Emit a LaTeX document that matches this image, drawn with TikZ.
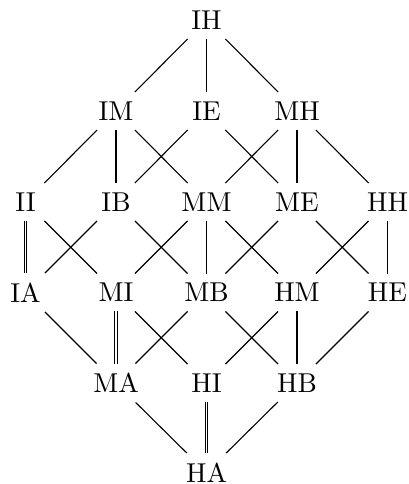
\documentclass[tikz,border=0pt]{standalone}
\begin{document}
\begin{tikzpicture}[x=0.3664pt,y=-0.3664pt,
  lbl/.style={inner sep=0.333em},
  eq/.style={double}]
\useasboundingbox (0,0) rectangle (408,484);
\node[lbl] (IH) at (206.5,20) {IH};
\node[lbl] (IM) at (116,111) {IM};
\node[lbl] (IE) at (206.5,111) {IE};
\node[lbl] (MH) at (297,111) {MH};
\node[lbl] (II) at (25.5,202) {II};
\node[lbl] (IB) at (116,202) {IB};
\node[lbl] (MM) at (206.5,202) {MM};
\node[lbl] (ME) at (297,202) {ME};
\node[lbl] (HH) at (387.5,202) {HH};
\node[lbl] (IA) at (25.5,292.5) {IA};
\node[lbl] (MI) at (116,292.5) {MI};
\node[lbl] (MB) at (206.5,292.5) {MB};
\node[lbl] (HM) at (297,292.5) {HM};
\node[lbl] (HE) at (387.5,292.5) {HE};
\node[lbl] (MA) at (116,383) {MA};
\node[lbl] (HI) at (206.5,383) {HI};
\node[lbl] (HB) at (297,383) {HB};
\node[lbl] (HA) at (206.5,472.5) {HA};
\draw (IH) -- (IM);
\draw (IH) -- (IE);
\draw (IH) -- (MH);
\draw (IM) -- (II);
\draw (IM) -- (IB);
\draw (IM) -- (MM);
\draw (IE) -- (IB);
\draw (IE) -- (ME);
\draw (MH) -- (MM);
\draw (MH) -- (ME);
\draw (MH) -- (HH);
\draw[eq] (II) -- (IA);
\draw (II) -- (MI);
\draw (IB) -- (IA);
\draw (IB) -- (MB);
\draw (MM) -- (MI);
\draw (MM) -- (MB);
\draw (MM) -- (HM);
\draw (ME) -- (MB);
\draw (ME) -- (HE);
\draw (HH) -- (HM);
\draw (HH) -- (HE);
\draw (IA) -- (MA);
\draw[eq] (MI) -- (MA);
\draw (MI) -- (HI);
\draw (MB) -- (MA);
\draw (MB) -- (HB);
\draw (HM) -- (HI);
\draw (HM) -- (HB);
\draw (HE) -- (HB);
\draw (MA) -- (HA);
\draw[eq] (HI) -- (HA);
\draw (HB) -- (HA);
\end{tikzpicture}
\end{document}
